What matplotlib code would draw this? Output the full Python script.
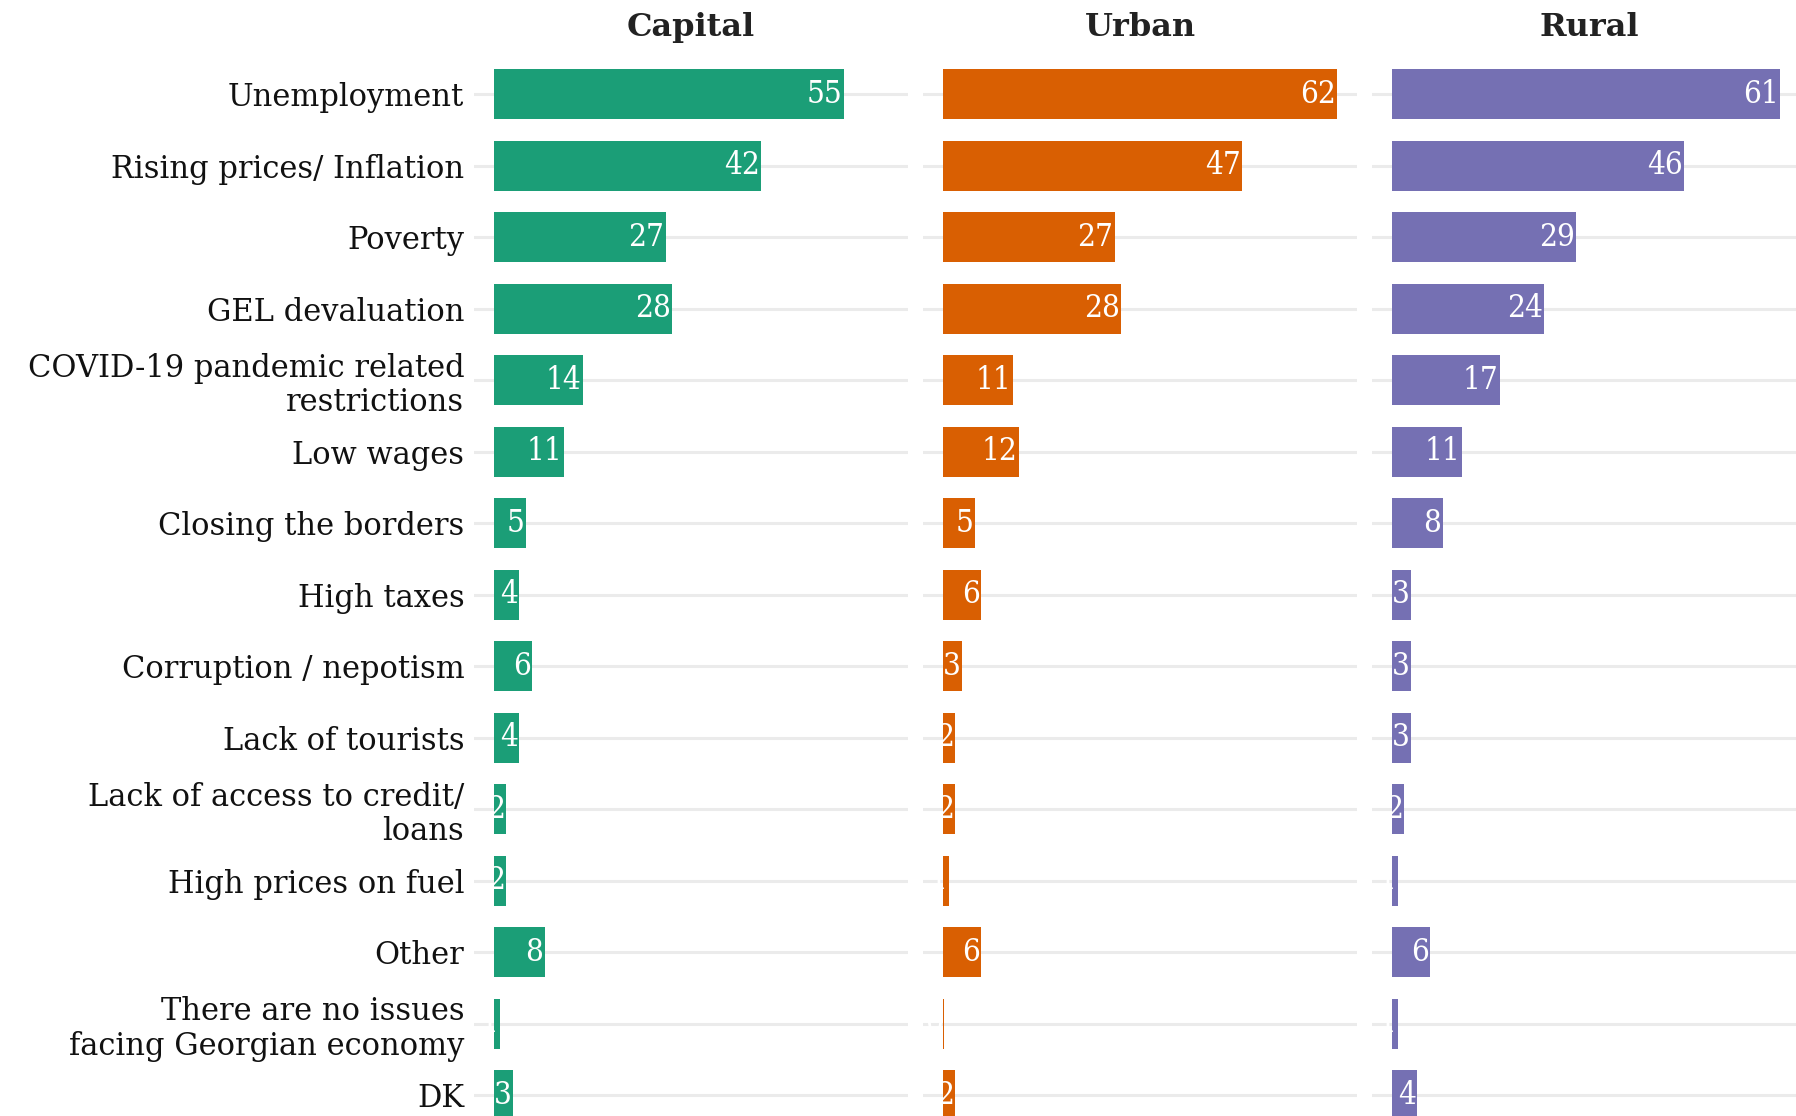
import matplotlib
matplotlib.use("Agg")
from matplotlib import pyplot as plt

# categories, top to bottom
categories = [
    "Unemployment",
    "Rising prices/ Inflation",
    "Poverty",
    "GEL devaluation",
    "COVID-19 pandemic related\nrestrictions",
    "Low wages",
    "Closing the borders",
    "High taxes",
    "Corruption / nepotism",
    "Lack of tourists",
    "Lack of access to credit/\nloans",
    "High prices on fuel",
    "Other",
    "There are no issues\nfacing Georgian economy",
    "DK",
]
panels = ["Capital", "Urban", "Rural"]
capital = [55, 42, 27, 28, 14, 11, 5, 4, 6, 4, 2, 2, 8, 1, 3]
urban = [62, 47, 27, 28, 11, 12, 5, 6, 3, 2, 2, 1, 6, 0.2, 2]
rural = [61, 46, 29, 24, 17, 11, 8, 3, 3, 3, 2, 1, 6, 1, 4]
colors = ["#1B9E77", "#D95F02", "#7570B3"]

W, H = 1796, 1116
fig = plt.figure(figsize=(W / 100, H / 100), dpi=100)

# panel layout in pixels
left_px = [474, 923, 1372]
panel_w = 434
top_px = 51.6
bottom_px = 1138

rows = list(range(len(categories)))
for i, (name, vals) in enumerate(zip(panels, [capital, urban, rural])):
    ax = fig.add_axes([left_px[i] / W, 1 - bottom_px / H,
                       panel_w / W, (bottom_px - top_px) / H])
    for r in rows:
        ax.axhline(r, color="#EBEBEB", lw=2.2, zorder=0)
    ax.barh(rows, vals, height=0.7, color=colors[i], zorder=2)
    for r, v in zip(rows, vals):
        ax.text(v - 0.2, r, "%.0f" % v, ha="right", va="center",
                color="white", fontsize=22.5, family="DejaVu Serif",
                fontstretch="condensed", zorder=3)
    ax.set_xlim(-3.1, 65.1)
    ax.set_ylim(len(categories) - 0.4, -0.6)
    ax.set_xticks([])
    ax.set_yticks([])
    for s in ax.spines.values():
        s.set_visible(False)
    ax.set_facecolor("none")
    ax.set_title(name, fontsize=23, fontweight="bold", family="DejaVu Serif",
                 color="#222222", pad=0, y=(bottom_px - 28) / (bottom_px - top_px),
                 va="center")
    if i == 0:
        ax.set_yticks(rows)
        ax.set_yticklabels(categories, fontsize=22, family="DejaVu Serif",
                           linespacing=1.15, color="#111111")
        ax.tick_params(axis="y", length=0, pad=7)

fig.savefig("out.png", dpi=100)
